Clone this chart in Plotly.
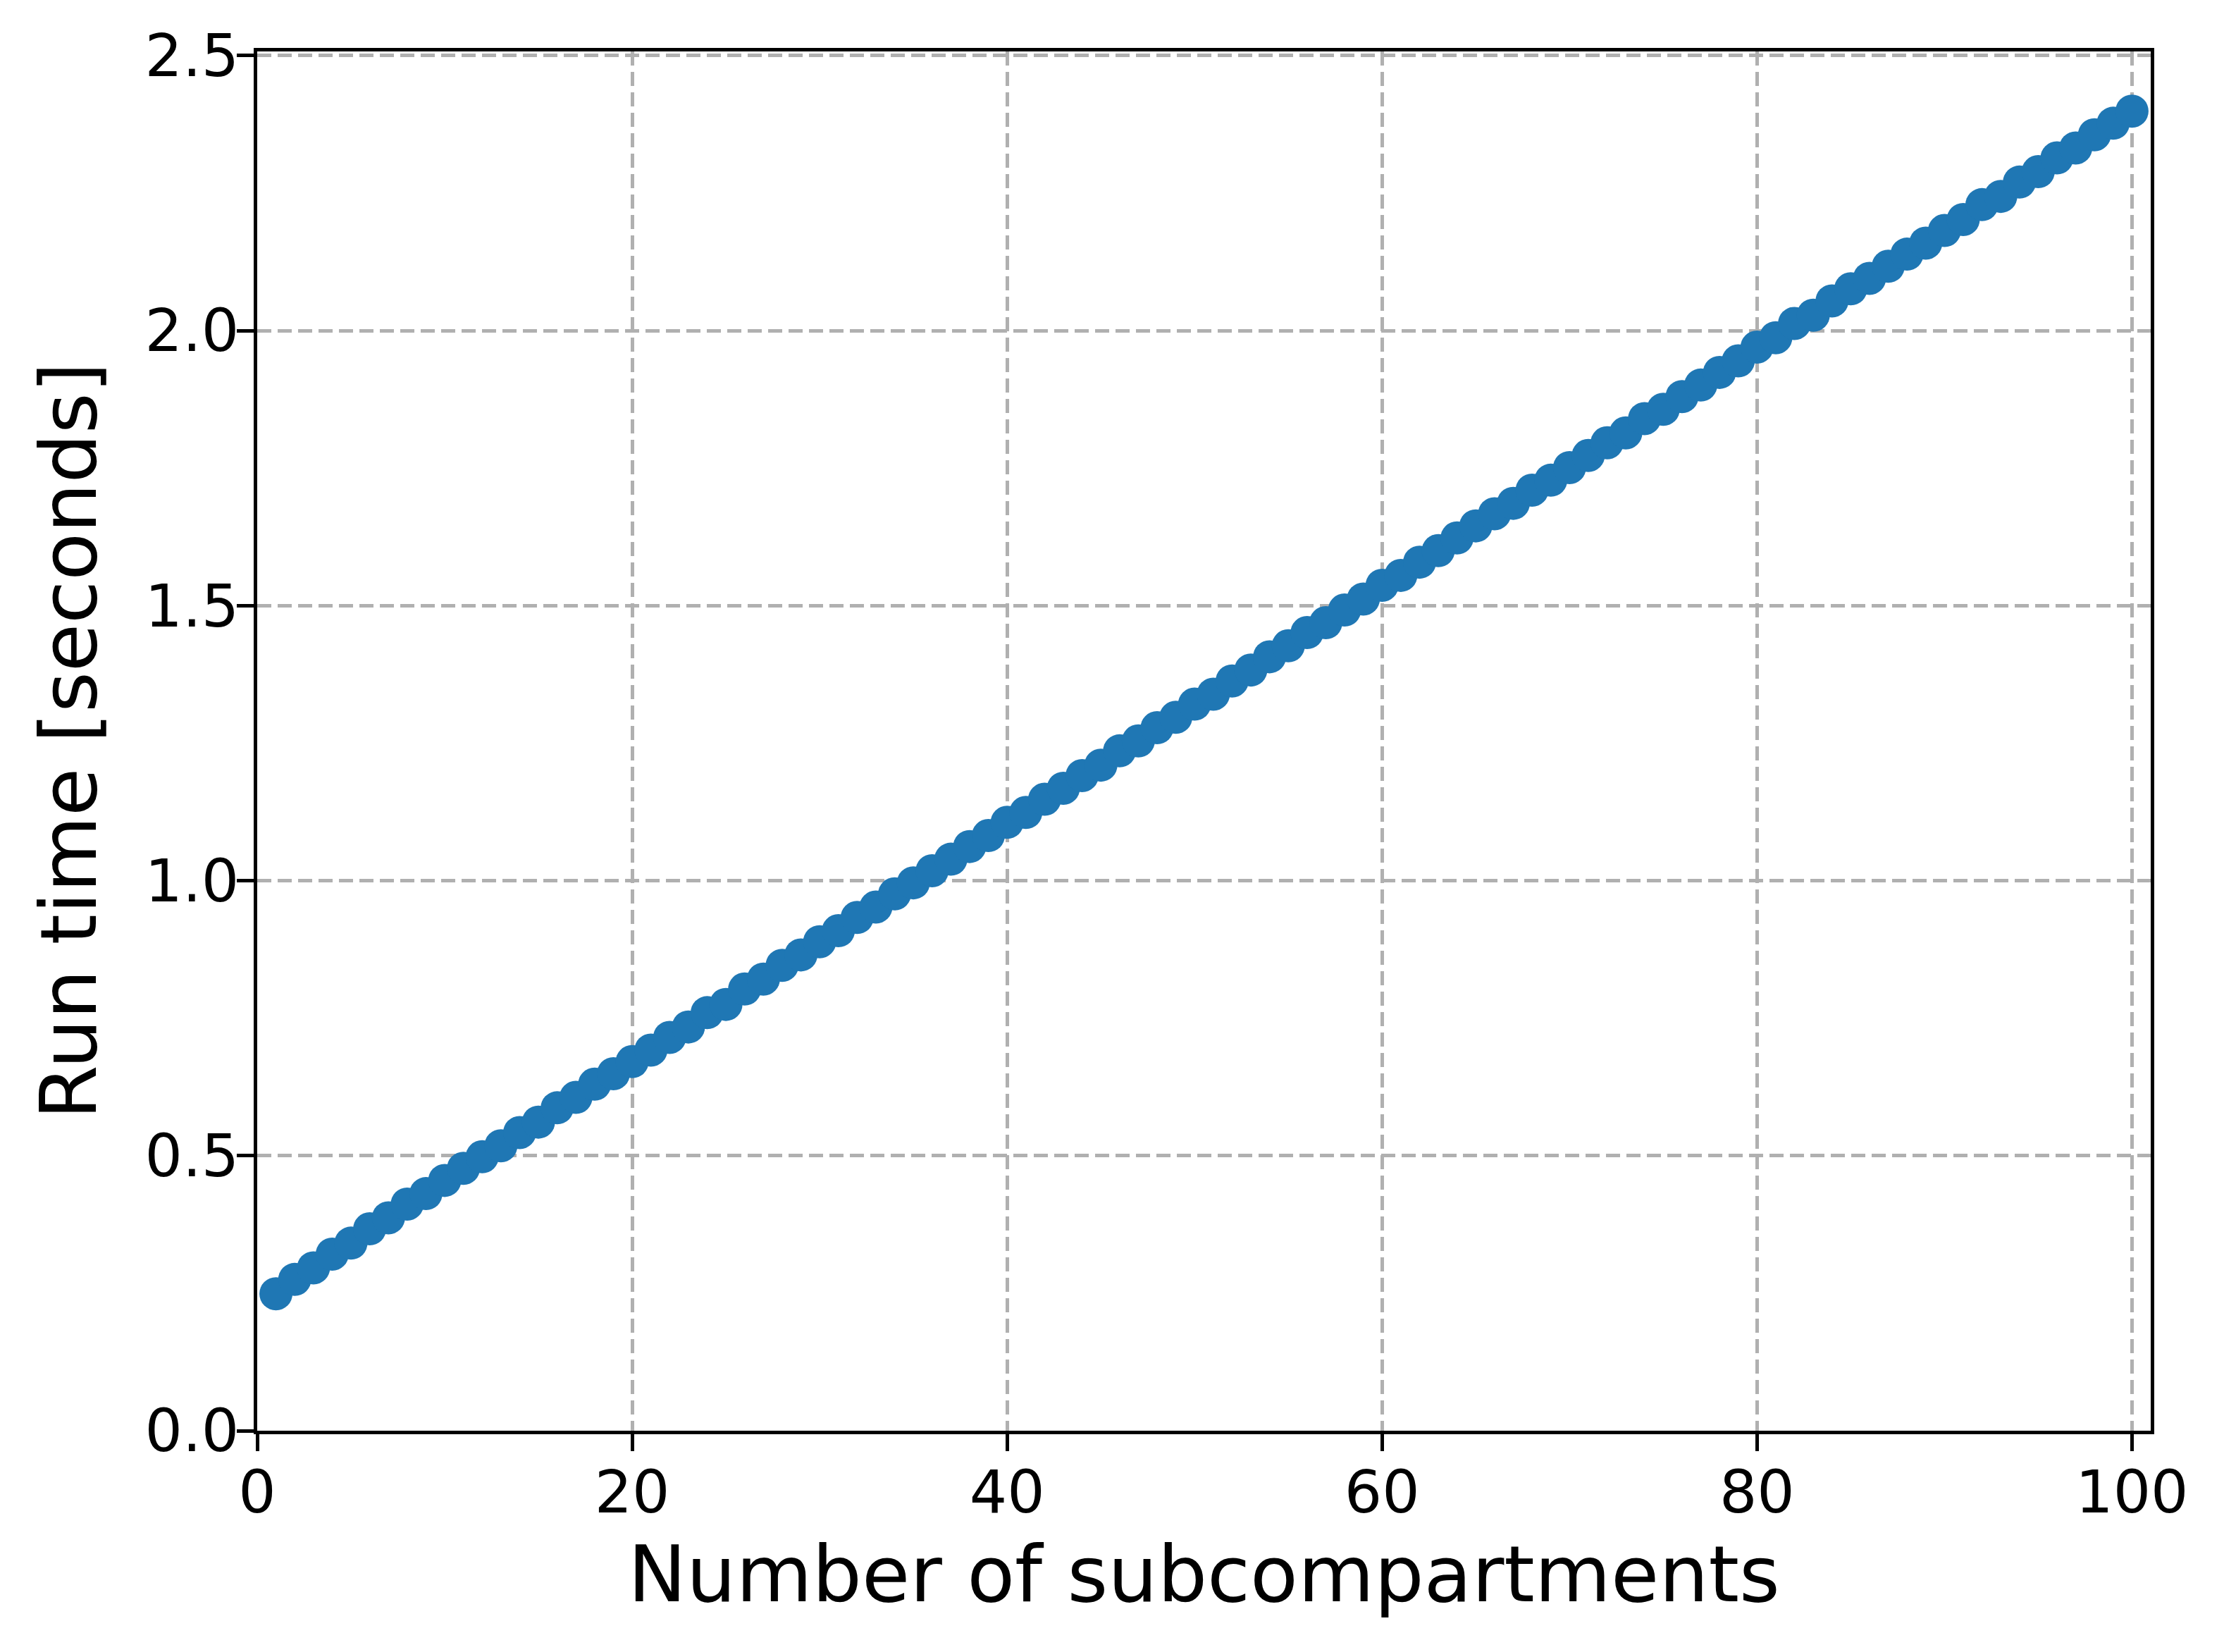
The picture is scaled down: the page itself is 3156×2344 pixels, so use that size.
import plotly.graph_objects as go

# Number of subcompartments
subcompartments = list(range(1, 101))

# Run time [seconds]
run_time = [
    0.249, 0.275, 0.296, 0.321, 0.341, 0.367, 0.387, 0.412, 0.431, 0.455,
    0.477, 0.498, 0.518, 0.542, 0.561, 0.587, 0.606, 0.630, 0.649, 0.671,
    0.692, 0.715, 0.734, 0.760, 0.775, 0.803, 0.821, 0.846, 0.865, 0.889,
    0.909, 0.933, 0.952, 0.976, 0.996, 1.018, 1.039, 1.062, 1.082, 1.106,
    1.124, 1.148, 1.168, 1.191, 1.210, 1.236, 1.254, 1.278, 1.297, 1.321,
    1.339, 1.363, 1.383, 1.407, 1.427, 1.451, 1.469, 1.492, 1.512, 1.537,
    1.555, 1.579, 1.600, 1.623, 1.645, 1.667, 1.686, 1.710, 1.728, 1.751,
    1.773, 1.796, 1.814, 1.840, 1.857, 1.880, 1.901, 1.924, 1.945, 1.970,
    1.987, 2.013, 2.028, 2.054, 2.076, 2.095, 2.117, 2.139, 2.159, 2.182,
    2.202, 2.229, 2.244, 2.270, 2.289, 2.314, 2.332, 2.356, 2.377, 2.399,
]

x_ticks = [0, 20, 40, 60, 80, 100]
y_ticks = [0.0, 0.5, 1.0, 1.5, 2.0, 2.5]

W, H = 3156, 2344
OFF = 8  # page body margin
L, R, T, B = 365, 3052, 73, 2030

FONT = "DejaVu Sans"
TICK_SIZE = 84
LABEL_SIZE = 111

fig = go.Figure()
fig.add_trace(go.Scatter(
    x=subcompartments, y=run_time, mode="lines+markers",
    line=dict(color="#1f77b4", width=10),
    marker=dict(color="#1f77b4", size=47, line=dict(width=0)),
    showlegend=False,
))

axis_common = dict(
    showline=True, linecolor="black", linewidth=5, mirror=True,
    ticks="outside", ticklen=24, tickwidth=5, tickcolor="black",
    showgrid=True, gridcolor="#b0b0b0", gridwidth=4.5, griddash="20px,9px",
    zeroline=False,
    tickfont=dict(family=FONT, size=TICK_SIZE, color="black"),
)

fig.update_xaxes(range=[0, 101], tickvals=x_ticks, ticklabelstandoff=-14,
                 ticktext=[str(v) for v in x_ticks], **axis_common)
fig.update_yaxes(range=[0, 2.5075], tickvals=y_ticks, ticklabelstandoff=-20,
                 ticktext=[f"{v:.1f}" for v in y_ticks], **axis_common)

pw, ph = R - L, B - T
fig.add_annotation(
    text="Number of subcompartments", xref="paper", yref="paper",
    x=0.5, y=-(2233 - B) / ph,
    xanchor="center", yanchor="middle", showarrow=False,
    font=dict(family=FONT, size=LABEL_SIZE, color="black"),
)
fig.add_annotation(
    text="Run time [seconds]", xref="paper", yref="paper",
    x=(97 - L) / pw, y=0.5, textangle=-90,
    xanchor="center", yanchor="middle", showarrow=False,
    font=dict(family=FONT, size=LABEL_SIZE, color="black"),
)

fig.update_layout(
    width=W - 2 * OFF, height=H - 2 * OFF,
    margin=dict(l=L - OFF, r=W - R - OFF, t=T - OFF, b=H - B - OFF,
                autoexpand=False),
    plot_bgcolor="white", paper_bgcolor="white",
    font=dict(family=FONT, color="black"),
)

fig.write_html("out.html")
